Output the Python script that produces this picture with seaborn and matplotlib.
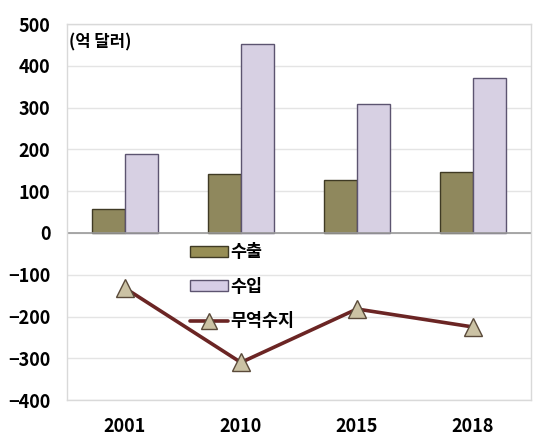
import pandas as pd
import matplotlib
matplotlib.use("Agg")
import matplotlib.pyplot as plt
import seaborn as sns
from matplotlib.patches import Patch
from matplotlib.lines import Line2D

# data (억 달러)
years = ['2001', '2010', '2015', '2018']
exports = [58, 141, 126, 145]
imports = [190, 453, 308, 372]
balance = [-132, -310, -182, -225]

export_color = '#978e55'
import_color = '#d6cde6'
line_color = '#6b2524'
marker_color = '#cbc2a4'

sns.set_theme(style='white')
plt.rcParams['font.family'] = ['Noto Sans CJK KR', 'DejaVu Sans']

bars = pd.DataFrame({
    'year': years * 2,
    'value': exports + imports,
    'kind': ['수출'] * 4 + ['수입'] * 4,
})
trade = pd.DataFrame({'year': years, 'balance': balance})

fig = plt.figure(figsize=(5.49, 4.47), dpi=100)
ax = fig.add_axes([0.122, 0.105, 0.845, 0.841])

sns.barplot(data=bars, x='year', y='value', hue='kind',
            palette=[export_color, import_color], width=0.57,
            edgecolor='#3f3a24', linewidth=1.0, legend=False, ax=ax)
# darker edges for the import bars
for p in ax.patches[4:8]:
    p.set_edgecolor('#5c5470')

sns.pointplot(data=trade, x='year', y='balance', color=line_color,
              markers='^', linestyles='-', ax=ax, zorder=5)
for ln in ax.lines:
    ln.set_linewidth(2.6)
    ln.set_markersize(13)
    ln.set_markerfacecolor(marker_color)
    ln.set_markeredgecolor('#5a4a3a')
    ln.set_markeredgewidth(1.0)

ax.set_ylim(-400, 500)
ax.set_xlim(-0.5, 3.5)
ax.set_yticks(range(-400, 501, 100))
ax.yaxis.grid(True, color='#e4e4e4', linewidth=1)
ax.set_axisbelow(True)
ax.axhline(0, color='#9a9a9a', linewidth=1.2, zorder=1)
for s in ax.spines.values():
    s.set_color('#d9d9d9')
    s.set_linewidth(1)
ax.set_xlabel('')
ax.set_ylabel('')
ax.tick_params(axis='y', labelsize=13, pad=12, length=0, labelcolor='black')
ax.tick_params(axis='x', labelsize=13, pad=12, length=0, labelcolor='black')
for t in ax.get_xticklabels() + ax.get_yticklabels():
    t.set_fontweight('bold')

ax.text(0.005, 0.975, '(억 달러)', transform=ax.transAxes, fontsize=12,
        fontweight='bold', va='top', ha='left', color='black')

handles = [
    Patch(facecolor=export_color, edgecolor='#3f3a24'),
    Patch(facecolor=import_color, edgecolor='#5c5470'),
    Line2D([0], [0], color=line_color, linewidth=2.6, marker='^',
           markersize=11, markerfacecolor=marker_color,
           markeredgecolor='#5a4a3a'),
]
leg = ax.legend(handles, ['수출', '수입', '무역수지'], loc='upper left',
                bbox_to_anchor=(0.25, 0.435), frameon=False, fontsize=12.5,
                labelspacing=0.95, handlelength=2.2, handleheight=0.6,
                handletextpad=0.1, borderaxespad=0)
for t in leg.get_texts():
    t.set_fontweight('bold')
    t.set_color('black')

fig.savefig('out.png', dpi=100)
